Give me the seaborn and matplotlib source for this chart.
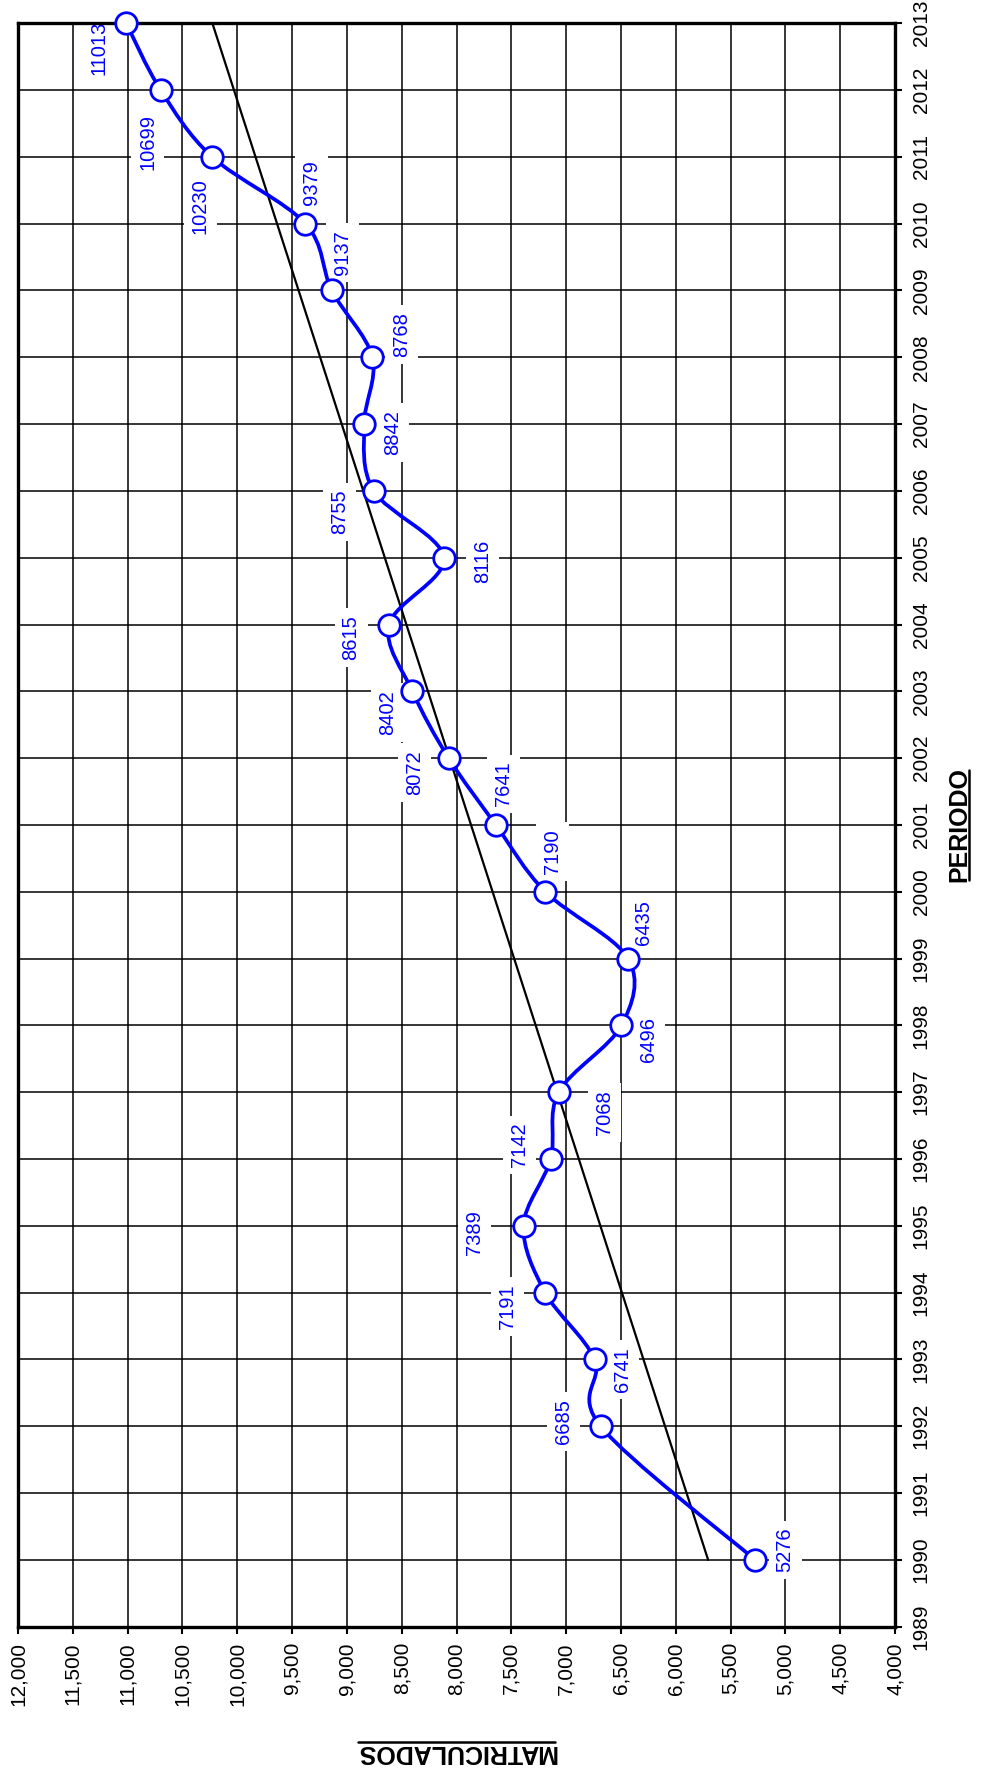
import numpy as np
import pandas as pd
import matplotlib
matplotlib.use('Agg')
import matplotlib.pyplot as plt
import seaborn as sns
from matplotlib.path import Path
from matplotlib.patches import PathPatch
from matplotlib.lines import Line2D
from matplotlib.transforms import IdentityTransform
from matplotlib.ticker import FuncFormatter, MultipleLocator

# data (1991 has no value)
years = [1990, 1992, 1993, 1994, 1995, 1996, 1997, 1998, 1999, 2000, 2001,
         2002, 2003, 2004, 2005, 2006, 2007, 2008, 2009, 2010, 2011, 2012, 2013]
matriculados = [5276, 6685, 6741, 7191, 7389, 7142, 7068, 6496, 6435, 7190, 7641,
                8072, 8402, 8615, 8116, 8755, 8842, 8768, 9137, 9379, 10230, 10699, 11013]

# where each value label sits relative to its point (offset points)
label_offsets = [(21.6, 7.2), (-26.6, 3.6), (20.2, -7.2), (-27.4, -10.1), (-35.3, -5.0),
                 (-22.3, 10.1), (33.1, -14.4), (19.8, -10.1), (11.2, 25.9), (5.0, 28.8),
                 (5.8, 29.5), (-24.5, -10.1), (-18.0, -15.1), (-27.4, -9.4), (28.1, -2.9),
                 (-24.5, -15.1), (20.2, -5.8), (20.9, 16.6), (7.9, 27.4), (4.3, 29.5),
                 (-8.6, -35.3), (-9.4, -37.4), (-19.9, -18.0)]

df = pd.DataFrame({'periodo': years, 'matriculados': matriculados})

sns.set_theme(style='white')
plt.rcParams['font.family'] = ['Liberation Sans Narrow', 'Liberation Sans', 'DejaVu Sans']
plt.rcParams.update({'text.color': 'black', 'axes.labelcolor': 'black',
                     'xtick.color': 'black', 'ytick.color': 'black',
                     'axes.edgecolor': 'black'})

fig = plt.figure(figsize=(9.9, 17.73), dpi=100)
ax = fig.add_axes([0.0182, 0.0825, 0.8859, 0.9044])

# chart is turned on its side: values run right->left, years bottom->top
ax.set_xlim(12000, 4000)
ax.set_ylim(1989, 2013)
ax.xaxis.set_major_locator(MultipleLocator(500))
ax.set_yticks(range(1989, 2014))
ax.xaxis.set_major_formatter(FuncFormatter(lambda v, p: f'{v:,.0f}'))
ax.grid(True, color='black', linewidth=1.1)
ax.set_axisbelow(True)

# smoothed blue line (bezier through the points)
pts = df[['matriculados', 'periodo']].to_numpy(dtype=float)
n = len(pts)
verts = [pts[0]]
codes = [Path.MOVETO]
for i in range(n - 1):
    p_prev = pts[max(i - 1, 0)]
    p0, p1 = pts[i], pts[i + 1]
    p_next = pts[min(i + 2, n - 1)]
    verts += [p0 + (p1 - p_prev) / 6, p1 - (p_next - p0) / 6, p1]
    codes += [Path.CURVE4] * 3
ax.add_patch(PathPatch(Path(verts, codes), fill=False, edgecolor='blue',
                       linewidth=2.7, zorder=4, clip_on=False))

# linear trend
coef = np.polyfit(df['periodo'], df['matriculados'], 1)
trend_years = np.array([years[0], years[-1]])
ax.plot(np.polyval(coef, trend_years), trend_years, color='black', linewidth=1.6, zorder=3)

sns.scatterplot(data=df, x='matriculados', y='periodo', s=240, color='white',
                edgecolor='blue', linewidth=2.0, zorder=5, clip_on=False, ax=ax)

for yr, val, (dx, dy) in zip(years, matriculados, label_offsets):
    ax.annotate(str(val), (val, yr), xytext=(dx, dy), textcoords='offset points',
                ha='center', va='center', rotation=90, color='blue', fontsize=14.5,
                bbox=dict(boxstyle='square,pad=0.35', fc='white', ec='none'),
                zorder=2, annotation_clip=False)

for sp in ax.spines.values():
    sp.set_linewidth(2.4)
    sp.set_color('black')

ax.yaxis.tick_right()
ax.tick_params(axis='x', bottom=True, direction='out', length=5, width=1.5,
               labelsize=15, labelrotation=90, pad=6)
ax.tick_params(axis='y', right=True, left=False, direction='out', length=5, width=1.5,
               labelsize=15, labelrotation=90, pad=7)
plt.setp(ax.get_yticklabels(), va='center')

ax.set_xlabel('MATRICULADOS', fontsize=18, fontweight='bold', rotation=180, labelpad=24)
ax.yaxis.set_label_position('right')
ax.set_ylabel('PERIODO', fontsize=18, fontweight='bold', rotation=90, labelpad=12)

# underline the axis titles
fig.canvas.draw()
r = fig.canvas.get_renderer()
bb = ax.yaxis.label.get_window_extent(r)
fig.add_artist(Line2D([bb.x1 - 2, bb.x1 - 2], [bb.y0 + 2, bb.y1 - 2], color='black',
                      linewidth=1.8, transform=IdentityTransform()))
bb = ax.xaxis.label.get_window_extent(r)
fig.add_artist(Line2D([bb.x0 + 2, bb.x1 - 2], [bb.y1 - 2, bb.y1 - 2], color='black',
                      linewidth=1.8, transform=IdentityTransform()))

fig.savefig('out.png', dpi=100)
